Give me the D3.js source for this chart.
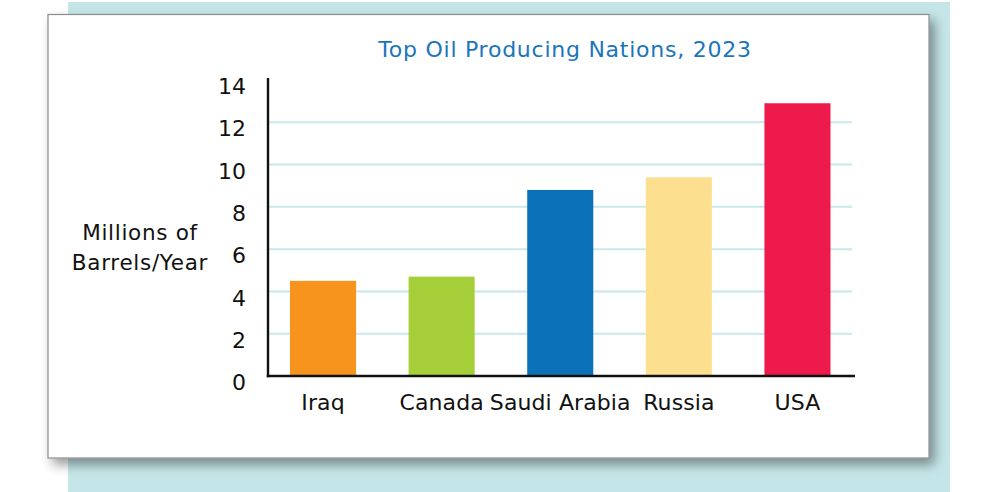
<!DOCTYPE html>
<html>
<head>
<meta charset="utf-8">
<script src="https://cdn.jsdelivr.net/npm/d3@7"></script>
<style>
  html, body { margin: 0; padding: 0; background: #ffffff; }
  svg { display: block; }
  text { font-family: "DejaVu Sans", sans-serif; }
</style>
</head>
<body>
<svg id="chart" width="1000" height="492"></svg>
<script>
// ---- data ----
const countries = ["Iraq", "Canada", "Saudi Arabia", "Russia", "USA"];
const production = [4.5, 4.7, 8.8, 9.4, 12.9];
const barColors = ["#f7941d", "#a6ce39", "#0b72ba", "#fde08f", "#ed1a4b"];
const yTicks = [0, 2, 4, 6, 8, 10, 12, 14];
const gridValues = [2, 4, 6, 8, 10, 12];
const titleText = "Top Oil Producing Nations, 2023";
const yTitleLines = ["Millions of", "Barrels/Year"];

const svg = d3.select("#chart");

// background panels
const defs = svg.append("defs");
const f = defs.append("filter").attr("id", "shadow")
  .attr("x", "-10%").attr("y", "-10%").attr("width", "120%").attr("height", "125%");
f.append("feDropShadow").attr("dx", 5).attr("dy", 6).attr("stdDeviation", 6)
  .attr("flood-color", "#000").attr("flood-opacity", 0.4);

svg.append("rect").attr("x", 68).attr("y", 2).attr("width", 882).attr("height", 490)
  .attr("fill", "#c5e6e8");
svg.append("rect").attr("x", 48).attr("y", 14.5).attr("width", 881).attr("height", 443.5)
  .attr("fill", "#ffffff").attr("stroke", "#8c8c8c").attr("stroke-width", 1.2)
  .attr("filter", "url(#shadow)");

// scales
const x = d3.scaleBand().domain(countries).range([290, 830.5]).paddingInner(0.443).paddingOuter(0);
const y = d3.scaleLinear().domain([0, 14]).range([376, 80]);

const data = countries.map((c, i) => ({ c, v: production[i], col: barColors[i] }));

// gridlines
svg.append("g").selectAll("line").data(gridValues).join("line")
  .attr("x1", 269).attr("x2", 852)
  .attr("y1", d => y(d)).attr("y2", d => y(d))
  .attr("stroke", "#c8e8eb").attr("stroke-width", 2);

// bars
svg.append("g").selectAll("rect").data(data).join("rect")
  .attr("x", d => x(d.c)).attr("width", x.bandwidth())
  .attr("y", d => y(d.v)).attr("height", d => y(0) - y(d.v))
  .attr("fill", d => d.col);

// y axis
const yAxis = d3.axisLeft(y).tickValues(yTicks).tickSize(0).tickPadding(22).tickFormat(d3.format("d"));
const gy = svg.append("g").attr("transform", "translate(268,0)").call(yAxis);
gy.select(".domain").remove();
gy.selectAll("text").attr("font-family", "DejaVu Sans").attr("font-size", 22)
  .attr("fill", "#111").attr("dy", "0.62em");
svg.append("line").attr("x1", 268).attr("x2", 268).attr("y1", 78).attr("y2", 377.2)
  .attr("stroke", "#111").attr("stroke-width", 2.4);

// x axis
const xAxis = d3.axisBottom(x).tickSize(0).tickPadding(18);
const gx = svg.append("g").attr("transform", "translate(0,376)").call(xAxis);
gx.select(".domain").remove();
gx.selectAll("text").attr("font-family", "DejaVu Sans").attr("font-size", 22)
  .attr("letter-spacing", 0.1).attr("fill", "#111");
svg.append("line").attr("x1", 266.8).attr("x2", 855).attr("y1", 376).attr("y2", 376)
  .attr("stroke", "#111").attr("stroke-width", 2.4);

// title
svg.append("text").attr("x", 565).attr("y", 57).attr("text-anchor", "middle")
  .attr("font-size", 22).attr("letter-spacing", 0.75).attr("fill", "#1a75bb").text(titleText);

// y title
svg.append("g").selectAll("text").data(yTitleLines).join("text")
  .attr("x", 140).attr("y", (d, i) => 239.5 + i * 30).attr("text-anchor", "middle")
  .attr("font-size", 21.5).attr("letter-spacing", 0.7).attr("fill", "#111").text(d => d);
</script>
</body>
</html>
